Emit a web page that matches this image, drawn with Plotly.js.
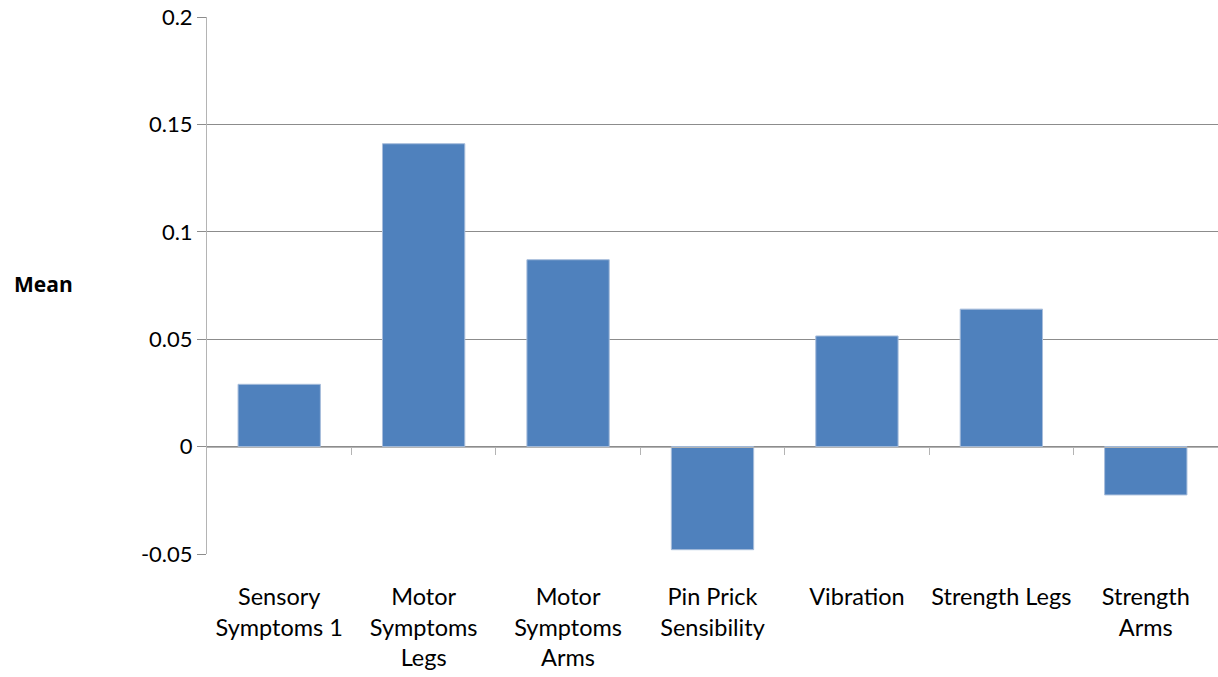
<!DOCTYPE html>
<html>
<head>
<meta charset="utf-8">
<script src="https://cdn.plot.ly/plotly-3.0.1.min.js"></script>
<style>
  html, body { margin: 0; padding: 0; background: #ffffff; }
  #chart { width: 1218px; height: 677px; }
</style>
</head>
<body>
<div id="chart"></div>
<script>
// Mean score change per neurological measure
const categories = [
  "Sensory Symptoms 1",
  "Motor Symptoms Legs",
  "Motor Symptoms Arms",
  "Pin Prick Sensibility",
  "Vibration",
  "Strength Legs",
  "Strength Arms"
];
const tickLabels = [
  "Sensory<br>Symptoms 1",
  "Motor<br>Symptoms<br>Legs",
  "Motor<br>Symptoms<br>Arms",
  "Pin Prick<br>Sensibility",
  "Vibration",
  "Strength Legs",
  "Strength<br>Arms"
];
const meanValues = [0.029, 0.141, 0.087, -0.048, 0.0515, 0.064, -0.0225];
const yTicks = [-0.05, 0, 0.05, 0.1, 0.15, 0.2];
const yTickText = ["-0.05", "0", "0.05", "0.1", "0.15", "0.2"];

const yMin = -0.05, yMax = 0.2;
const idx = categories.map((_, i) => i);
const boundaries = categories.map((_, i) => i + 0.5);

const font = "Lato, 'Open Sans', sans-serif";

const traces = [
  {
    type: "bar",
    x: idx,
    y: meanValues,
    marker: { color: "#4F81BD", line: { color: "#a7bddb", width: 1 } },
    hoverinfo: "skip"
  },
  {
    // carries the category axis drawn along the zero level
    type: "scatter",
    x: idx,
    y: meanValues,
    xaxis: "x2",
    mode: "markers",
    marker: { opacity: 0 },
    hoverinfo: "skip",
    showlegend: false
  }
];

const layout = {
  width: 1218,
  height: 677,
  margin: { l: 207, r: 0, t: 17, b: 123 },
  paper_bgcolor: "#ffffff",
  plot_bgcolor: "#ffffff",
  showlegend: false,
  bargap: 0.43,
  font: { family: font, size: 20, color: "#000000" },
  xaxis: {
    range: [-0.5, 6.5],
    tickmode: "array",
    tickvals: idx,
    ticktext: tickLabels,
    ticks: "outside",
    ticklen: 22,
    tickcolor: "rgba(0,0,0,0)",
    showgrid: false,
    showline: false,
    zeroline: false,
    tickfont: { family: font, size: 23.5, color: "#000000" }
  },
  xaxis2: {
    overlaying: "x",
    anchor: "free",
    position: (0 - yMin) / (yMax - yMin),
    range: [-0.5, 6.5],
    tickmode: "array",
    tickvals: boundaries,
    ticks: "outside",
    ticklen: 7,
    tickcolor: "#b4b4b4",
    showticklabels: false,
    showgrid: false,
    showline: true,
    linecolor: "#b4b4b4",
    linewidth: 1,
    zeroline: false
  },
  yaxis: {
    range: [yMin, yMax],
    tickmode: "array",
    tickvals: yTicks,
    ticktext: yTickText,
    ticks: "outside",
    ticklen: 9,
    tickcolor: "#8c8c8c",
    showgrid: true,
    gridcolor: "#8c8c8c",
    gridwidth: 1,
    zeroline: false,
    showline: true,
    linecolor: "#b4b4b4",
    linewidth: 1,
    tickfont: { family: font, size: 22, color: "#000000" }
  },
  annotations: [
    {
      text: "<b>Mean</b>",
      xref: "paper",
      yref: "paper",
      x: -207 / 1011 + 12 / 1011,
      y: (0.0755 - yMin) / (yMax - yMin),
      xanchor: "left",
      yanchor: "middle",
      showarrow: false,
      font: { family: "'Open Sans', sans-serif", size: 21, color: "#000000" }
    }
  ]
};

Plotly.newPlot("chart", traces, layout, { staticPlot: true, displayModeBar: false });
</script>
</body>
</html>
